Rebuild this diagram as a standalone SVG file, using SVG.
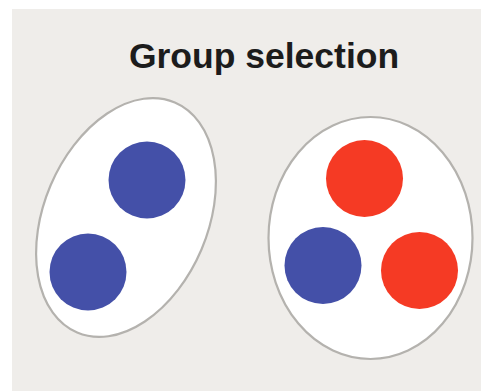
<svg xmlns="http://www.w3.org/2000/svg" width="481" height="391" viewBox="0 0 481 391">
<style>
.group{fill:#ffffff;stroke:#b4b2ae;stroke-width:2.2}
.blue{fill:#4450a8}
.red{fill:#f53a24}
.title{font-family:"Liberation Sans",Arial,sans-serif;font-weight:bold;font-size:35.5px;fill:#1c1c1c}
</style>
<rect x="0" y="0" width="481" height="391" fill="#ffffff"/>
<rect x="12" y="9" width="469" height="382" fill="#efedea"/>
<text class="title" x="264" y="68" text-anchor="middle">Group selection</text>
<g id="group-left">
<ellipse class="group" cx="126" cy="217.5" rx="82" ry="125" transform="rotate(23 126 217.5)"/>
<circle id="left-blue-1" class="blue" cx="147" cy="180" r="38.5"/>
<circle id="left-blue-2" class="blue" cx="88" cy="272" r="38.5"/>
</g>
<g id="group-right">
<ellipse class="group" cx="370.5" cy="238" rx="102" ry="121"/>
<circle id="right-red-1" class="red" cx="364.5" cy="178.5" r="38.5"/>
<circle id="right-blue" class="blue" cx="323" cy="265.5" r="38.5"/>
<circle id="right-red-2" class="red" cx="419.5" cy="270.5" r="38.5"/>
</g>
<g id="connectors"/>
</svg>
